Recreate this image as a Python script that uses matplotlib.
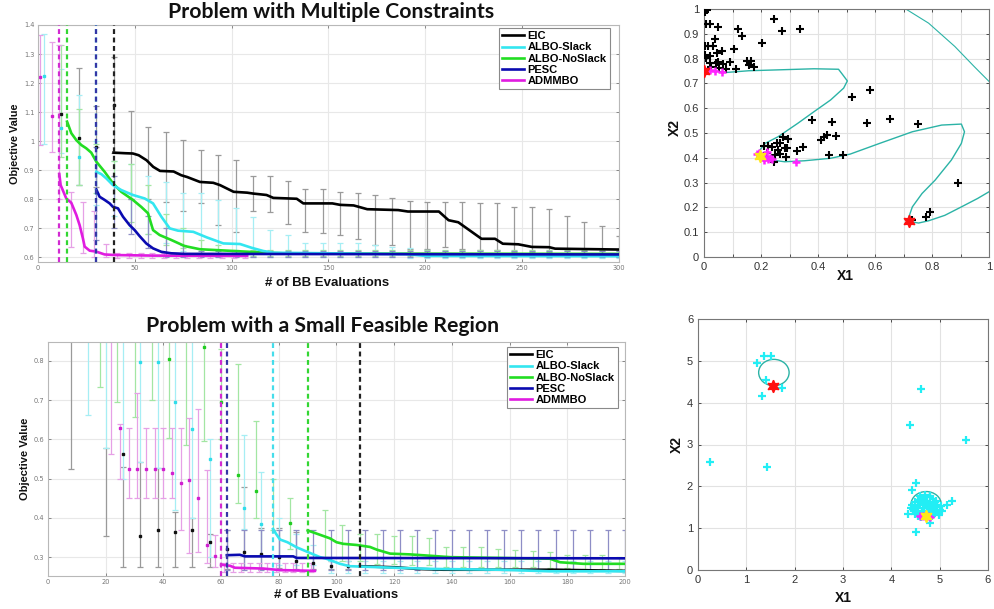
import matplotlib.pyplot as plt
import numpy as np
from matplotlib.patches import Circle

W, H = 995, 609

# ---------------- top-left: Problem with Multiple Constraints ----------------
methods = ['EIC', 'ALBO-Slack', 'ALBO-NoSlack', 'PESC', 'ADMMBO']

t_eic_x = [39, 45, 49, 52, 56, 59.5, 63, 70, 74, 77, 83.6, 90.5, 94, 101, 108, 111, 118, 121.5, 133.6, 137,
           152, 156, 163, 170, 186, 191, 207, 212, 217, 229, 236, 240, 248, 255, 264, 267, 300]
t_eic_y = [0.96, 0.958, 0.957, 0.951, 0.934, 0.911, 0.897, 0.895, 0.882, 0.876, 0.859, 0.856, 0.848, 0.825,
           0.822, 0.819, 0.814, 0.804, 0.801, 0.785, 0.785, 0.78, 0.778, 0.765, 0.762, 0.757, 0.757, 0.727,
           0.72, 0.663, 0.663, 0.646, 0.644, 0.635, 0.634, 0.629, 0.626]
t_slack_x = [30.1, 32.7, 35.3, 38.7, 43, 49, 55.1, 59.4, 63.7, 68, 72.3, 80.2, 87.1, 95.7, 104.3, 110.3,
             116.3, 121.5, 150, 190, 200, 300]
t_slack_y = [0.894, 0.886, 0.871, 0.848, 0.831, 0.814, 0.802, 0.785, 0.739, 0.699, 0.691, 0.687, 0.668,
             0.647, 0.645, 0.632, 0.621, 0.615, 0.613, 0.61, 0.604, 0.603]
t_noslack_x = [15, 17.2, 19.8, 22.4, 24.9, 27.5, 30.1, 34.4, 38.7, 43, 49, 53.3, 56.8, 59.4, 62.8, 68.8,
               75.7, 83.6, 92.2, 109.5, 118, 130, 300]
t_noslack_y = [1.067, 1.027, 1.003, 0.986, 0.975, 0.96, 0.929, 0.894, 0.854, 0.825, 0.797, 0.773, 0.751,
               0.693, 0.676, 0.659, 0.638, 0.627, 0.624, 0.618, 0.615, 0.612, 0.611]
t_pesc_x = [30.1, 31.8, 34.4, 37, 38.7, 41.3, 43.9, 47.3, 49.9, 52.5, 55.9, 59.4, 63.7, 68.8, 75.7, 300]
t_pesc_y = [0.833, 0.808, 0.797, 0.785, 0.773, 0.768, 0.739, 0.71, 0.693, 0.672, 0.647, 0.63, 0.618,
            0.613, 0.611, 0.609]
t_admm_x = [11, 11.7, 14.6, 17.2, 19.8, 21.5, 23.2, 24.1, 26.7, 30, 34.4, 39.6, 60, 108]
t_admm_y = [0.886, 0.848, 0.802, 0.787, 0.745, 0.71, 0.664, 0.636, 0.622, 0.619, 0.609, 0.607, 0.605, 0.604]

# error bars (x, low, high)
t_eic_bx = [21, 30, 39] + list(range(48, 301, 9))
t_eic_lo = [0.848, 0.84, 0.96, 0.80, 0.80, 0.79, 0.76, 0.785, 0.71, 0.687, 0.76, 0.756, 0.714, 0.687, 0.682,
            0.676, 0.664, 0.64, 0.64, 0.629, 0.629, 0.635, 0.629, 0.623, 0.623, 0.618, 0.618, 0.618, 0.612,
            0.612, 0.612, 0.612]
t_eic_hi = [1.253, 1.12, 1.29, 1.105, 1.05, 1.03, 1.005, 0.969, 0.952, 0.934, 0.879, 0.879, 0.863, 0.833,
            0.833, 0.825, 0.821, 0.815, 0.804, 0.792, 0.79, 0.79, 0.79, 0.786, 0.786, 0.773, 0.773, 0.764,
            0.741, 0.721, 0.706, 0.672]
t_eic_dx = [12, 21, 30, 39]
t_eic_dy = [1.092, 1.01, 0.98, 1.125]

t_slack_bx = [3, 12, 21] + list(range(30, 301, 9))
t_slack_lo = [0.99, 0.96, 0.85, 0.78, 0.74, 0.70, 0.68, 0.65, 0.62, 0.61, 0.60, 0.60, 0.60, 0.60, 0.60, 0.60,
              0.60, 0.60, 0.60, 0.60, 0.60, 0.598, 0.598, 0.598, 0.598, 0.598, 0.598, 0.598, 0.598, 0.598,
              0.598, 0.598, 0.598, 0.598]
t_slack_hi = [1.37, 1.25, 1.16, 1.0, 0.93, 0.92, 0.88, 0.86, 0.82, 0.82, 0.797, 0.768, 0.739, 0.693, 0.676,
              0.65, 0.65, 0.65, 0.648, 0.64, 0.635, 0.63, 0.625, 0.62, 0.62, 0.62, 0.62, 0.62, 0.62, 0.62,
              0.62, 0.62, 0.62, 0.62]
t_slack_dx = [3, 12, 21]
t_slack_dy = [1.224, 1.044, 0.946]

t_noslack_bx = [12] + list(range(21, 301, 9))
t_noslack_lo = [0.945, 0.848, 0.82, 0.80, 0.72, 0.68, 0.64, 0.63, 0.615, 0.61] + [0.605] * 23
t_noslack_hi = [1.331, 1.112, 0.99, 0.93, 0.92, 0.85, 0.75, 0.70, 0.66, 0.64] + [0.625] * 23

t_pesc_bx = list(range(30, 301, 9))
t_pesc_lo = [0.66, 0.70, 0.68, 0.63, 0.60, 0.60] + [0.60] * 25
t_pesc_hi = [0.98, 0.88, 0.80, 0.74, 0.70, 0.64] + [0.62] * 25

t_admm_bx = [1, 7] + list(range(11, 108, 6))
t_admm_lo = [0.986, 0.961, 0.80, 0.636, 0.613, 0.60, 0.60] + [0.598] * 12
t_admm_hi = [1.366, 1.34, 1.33, 0.825, 0.791, 0.76, 0.645] + [0.615] * 12
t_admm_dx = [1, 7]
t_admm_dy = [1.222, 1.087]

t_start = [39, 30, 15, 30, 11]   # dashed start lines (EIC, Slack, NoSlack, PESC, ADMMBO)

# ---------------- bottom-left: Problem with a Small Feasible Region ----------------
b_eic_x = [108, 121, 128, 137, 176, 200]
b_eic_y = [0.277, 0.274, 0.27, 0.268, 0.268, 0.265]
b_slack_x = [78, 79, 80.4, 83, 86.2, 92, 94.3, 96.5, 101.2, 104.6, 116, 133.4, 156.4, 173.7, 200]
b_slack_y = [0.372, 0.36, 0.345, 0.338, 0.325, 0.307, 0.30, 0.296, 0.283, 0.277, 0.274, 0.27, 0.268,
             0.264, 0.264]
b_noslack_x = [90, 93.1, 97.7, 100, 102.3, 107, 111.6, 114, 118.6, 125.6, 133.6, 139.4, 156.7, 174, 177.5,
               185.6, 200]
b_noslack_y = [0.368, 0.36, 0.348, 0.338, 0.334, 0.331, 0.326, 0.319, 0.309, 0.307, 0.303, 0.3, 0.298,
               0.296, 0.287, 0.283, 0.283]
b_pesc_x = [62, 66.5, 68.3, 85, 86.2, 200]
b_pesc_y = [0.305, 0.306, 0.302, 0.302, 0.298, 0.297]
b_admm_x = [60, 63.1, 64.8, 74.6, 80.4, 87, 92.5]
b_admm_y = [0.281, 0.278, 0.273, 0.271, 0.267, 0.266, 0.265]

b_eic_bx = [8, 20, 26, 32, 38, 44, 50, 56, 62, 68, 74, 80, 86, 92, 98, 104]
b_eic_lo = [0.524, 0.354, 0.275, 0.275, 0.275, 0.275, 0.275, 0.275, 0.27, 0.272, 0.27, 0.272, 0.27, 0.27,
            0.27, 0.27]
b_eic_hi = [0.9, 0.577, 0.53, 0.543, 0.526, 0.415, 0.40, 0.36, 0.37, 0.479, 0.373, 0.373, 0.365, 0.30,
            0.29, 0.29]
b_eic_dx = [26, 32, 38, 44, 50, 56, 62, 68, 74, 80, 86, 92, 98, 104]
b_eic_dy = [0.562, 0.354, 0.369, 0.365, 0.369, 0.339, 0.322, 0.313, 0.307, 0.30, 0.29, 0.284, 0.277, 0.277]

b_slack_bx = [14, 20, 26, 32, 38, 44, 50, 56, 68, 74, 80, 86, 92] + list(range(98, 201, 6))
b_slack_lo = [0.662, 0.577, 0.50, 0.543, 0.526, 0.42, 0.40, 0.30, 0.371, 0.305, 0.28, 0.28, 0.28] + [0.26] * 18
b_slack_hi = [0.9, 0.9, 0.9, 0.9, 0.9, 0.9, 0.9, 0.60, 0.611, 0.518, 0.40, 0.36, 0.33] + [0.29] * 18
b_slack_dx = [32, 38, 44, 50, 56, 68, 74]
b_slack_dy = [0.797, 0.796, 0.696, 0.626, 0.549, 0.424, 0.384]

b_noslack_bx = [18, 24, 30, 36, 42, 48, 54, 60, 66, 72, 78, 84] + list(range(96, 199, 6))
b_noslack_lo = [0.734, 0.696, 0.658, 0.70, 0.603, 0.586, 0.595, 0.60, 0.437, 0.40, 0.37, 0.322,
                0.30, 0.29, 0.29, 0.283, 0.283, 0.28, 0.28, 0.275, 0.275, 0.275, 0.275, 0.275, 0.275, 0.272,
                0.272, 0.27, 0.27, 0.27]
b_noslack_hi = [0.9, 0.9, 0.9, 0.9, 0.9, 0.9, 0.9, 0.83, 0.792, 0.647, 0.50, 0.451,
                0.42, 0.382, 0.36, 0.36, 0.355, 0.353, 0.349, 0.327, 0.327, 0.325, 0.322, 0.318, 0.315, 0.313,
                0.306, 0.306, 0.306, 0.30]
b_noslack_dx = [42, 54, 60, 66, 72, 84]
b_noslack_dy = [0.805, 0.834, 0.696, 0.509, 0.468, 0.386]

b_pesc_bx = list(range(62, 201, 6))
b_pesc_lo = [0.267] * 24
b_pesc_hi = [0.369] * 24

b_admm_bx = [22, 25, 28, 31, 34, 37, 40, 43, 46, 49, 52, 55, 58] + list(range(61, 92, 3))
b_admm_lo = [0.562, 0.50, 0.45, 0.45, 0.45, 0.45, 0.45, 0.45, 0.369, 0.31, 0.313, 0.286, 0.275] + [0.262] * 11
b_admm_hi = [0.9, 0.64, 0.63, 0.718, 0.63, 0.63, 0.63, 0.63, 0.628, 0.654, 0.677, 0.522, 0.356] + [0.285] * 11
b_admm_dx = [25, 28, 31, 34, 37, 40, 43, 46, 49, 52, 55, 58]
b_admm_dy = [0.63, 0.524, 0.524, 0.524, 0.524, 0.524, 0.515, 0.488, 0.496, 0.45, 0.33, 0.303]

b_start = [108, 78, 90, 62, 60]

# ---------------- top-right scatter ----------------
tr_black_x = [0.002, 0.01, 0.008, 0.02, 0.048, 0.12, 0.132, 0.247, 0.272, 0.337, 0.205, 0.037, 0.002, 0.014,
              0.031, 0.045, 0.063, 0.105, 0.002, 0.008, 0.02, 0.02, 0.042, 0.048, 0.068, 0.091, 0.111, 0.151,
              0.166, 0.159, 0.177, 0.054, 0.077, 0.025,
              0.209, 0.226, 0.237, 0.255, 0.266, 0.278, 0.295, 0.26, 0.283, 0.292, 0.249, 0.266, 0.289, 0.22,
              0.327, 0.346, 0.247, 0.378, 0.448, 0.412, 0.421, 0.432, 0.462, 0.44, 0.486, 0.518, 0.584, 0.573,
              0.654, 0.751, 0.891, 0.73, 0.78, 0.794]
tr_black_y = [0.987, 0.997, 0.94, 0.94, 0.927, 0.919, 0.892, 0.961, 0.912, 0.919, 0.862, 0.879, 0.849, 0.849,
              0.849, 0.822, 0.829, 0.838, 0.815, 0.802, 0.809, 0.784, 0.782, 0.788, 0.778, 0.788, 0.759, 0.791,
              0.791, 0.775, 0.768, 0.761, 0.757, 0.768,
              0.449, 0.449, 0.445, 0.458, 0.458, 0.482, 0.476, 0.431, 0.438, 0.438, 0.411, 0.415, 0.402, 0.418,
              0.429, 0.445, 0.384, 0.553, 0.543, 0.472, 0.485, 0.492, 0.489, 0.411, 0.411, 0.647, 0.674, 0.539,
              0.555, 0.536, 0.299, 0.148, 0.162, 0.182]
tr_mag_x = [0.02, 0.037, 0.063, 0.186, 0.194, 0.214, 0.226, 0.237, 0.209, 0.22, 0.323, 0.23]
tr_mag_y = [0.755, 0.751, 0.745, 0.415, 0.42, 0.404, 0.394, 0.396, 0.39, 0.425, 0.384, 0.40]
tr_red_x = [0.0, 0.719]
tr_red_y = [0.751, 0.144]
tr_yel_x = [0.197]
tr_yel_y = [0.408]
tr_c1_x = [0.008, 0.077, 0.157, 0.272, 0.386, 0.472, 0.484, 0.503, 0.49, 0.444, 0.386, 0.329, 0.26, 0.214,
           0.192, 0.197, 0.237, 0.283, 0.352, 0.444, 0.513, 0.616, 0.731, 0.834, 0.903, 0.914, 0.903, 0.868,
           0.811, 0.765, 0.731, 0.719, 0.725, 0.753, 0.788, 0.845, 0.903, 0.96, 1.0]
tr_c1_y = [0.755, 0.744, 0.751, 0.755, 0.759, 0.757, 0.739, 0.71, 0.681, 0.633, 0.586, 0.539, 0.485, 0.458,
           0.425, 0.404, 0.391, 0.384, 0.388, 0.398, 0.415, 0.458, 0.505, 0.532, 0.536, 0.505, 0.458, 0.391,
           0.31, 0.256, 0.202, 0.162, 0.142, 0.137, 0.146, 0.168, 0.202, 0.236, 0.263]
tr_c2_x = [0.708, 0.788, 0.88, 0.948, 1.0]
tr_c2_y = [1.0, 0.943, 0.849, 0.768, 0.708]

# ---------------- bottom-right scatter ----------------
br_x = [0.24, 1.43, 1.32, 1.22, 1.37, 1.52, 1.41, 1.73, 4.62, 4.39, 5.55, 4.51, 4.42, 5.25, 5.15, 4.52, 4.8, 4.35,
        4.45, 4.5, 4.55, 4.6, 4.65, 4.7, 4.75, 4.8, 4.85, 4.9, 4.95, 5.0, 5.05,
        4.48, 4.53, 4.58, 4.63, 4.68, 4.73, 4.78, 4.83, 4.88, 4.93, 4.98,
        4.5, 4.56, 4.62, 4.68, 4.74, 4.8, 4.86, 4.92,
        4.55, 4.62, 4.7, 4.78, 4.85, 4.6, 4.7, 4.8, 4.42, 4.4, 4.95, 5.02, 4.66, 4.74]
br_y = [2.58, 2.47, 4.15, 4.96, 5.12, 5.12, 4.55, 4.35, 4.33, 3.46, 3.11, 2.07, 1.91, 1.66, 1.55, 0.92, 1.13, 1.35,
        1.45, 1.5, 1.42, 1.55, 1.48, 1.6, 1.52, 1.58, 1.46, 1.62, 1.5, 1.44, 1.4,
        1.35, 1.38, 1.32, 1.36, 1.4, 1.34, 1.38, 1.35, 1.33, 1.38, 1.32,
        1.62, 1.68, 1.7, 1.72, 1.66, 1.74, 1.7, 1.65,
        1.28, 1.26, 1.3, 1.28, 1.3, 1.78, 1.8, 1.76, 1.55, 1.48, 1.56, 1.52, 1.64, 1.42]
br_mag_x = [4.6, 4.65, 4.75, 4.8]
br_mag_y = [1.28, 1.3, 1.3, 1.27]
br_red = (1.55, 4.41)
br_yel = (4.71, 1.28)
br_circles = [(1.57, 4.72), (4.72, 1.56)]
br_radius = 0.315

# ---------------- styling ----------------
line_c = ['#000000', '#33E6F0', '#22DD22', '#0A0AB0', '#E01BE0']
err_c = ['#9a9a9a', '#a6eef4', '#a3e6a3', '#8e8ec6', '#e6a0e6']
dash_c = ['#222222', '#45DDEB', '#33D633', '#3535A5', '#D22AD2']
dot_c = ['#111111', '#30DDEA', '#22CC22', '#1010A0', '#D020D0']

fig = plt.figure(figsize=(W / 100, H / 100), dpi=100)


def px_axes(l, t, r, b):
    return fig.add_axes([l / W, 1 - b / H, (r - l) / W, (b - t) / H])


def bars(ax, x, lo, hi, color):
    x = np.asarray(x, float)
    lo = np.asarray(lo, float)
    hi = np.asarray(hi, float)
    mid = (lo + hi) / 2
    ax.errorbar(x, mid, yerr=[mid - lo, hi - mid], fmt='none', ecolor=color,
                elinewidth=0.9, capsize=2, capthick=0.9, zorder=2)


def style_left(ax, xticks, yticks, ylabels):
    ax.set_xticks(xticks)
    ax.set_yticks(yticks)
    ax.set_yticklabels(ylabels)
    ax.grid(True, color='#e8e8e8', lw=0.8)
    ax.set_axisbelow(True)
    ax.tick_params(direction='in', length=2, width=0.6, labelsize=4.8, colors='#777777',
                   top=True, right=True, pad=2.5)
    for s in ax.spines.values():
        s.set_color('#b8b8b8')
        s.set_linewidth(0.8)


def style_right(ax, ticks, labels):
    ax.set_xticks(ticks)
    ax.set_yticks(ticks)
    ax.set_xticklabels(labels)
    ax.set_yticklabels(labels)
    ax.grid(True, color='#e2e2e2', lw=0.8)
    ax.set_axisbelow(True)
    ax.tick_params(direction='in', length=2.5, width=0.6, labelsize=8, colors='#333333',
                   top=True, right=True, pad=3.5)
    for lab in ax.get_xticklabels() + ax.get_yticklabels():
        lab.set_fontfamily('Liberation Sans')
    for s in ax.spines.values():
        s.set_color('#777777')
        s.set_linewidth(0.8)


def legend(ax, anchor):
    leg = ax.legend(loc='upper right', bbox_to_anchor=anchor, borderaxespad=0,
                    prop={'family': 'Liberation Sans', 'weight': 'bold', 'size': 8},
                    handlelength=2.0, handletextpad=0.3, labelspacing=0.1, borderpad=0.3,
                    fancybox=False, framealpha=1, edgecolor='#8a8a8a')
    leg.get_frame().set_linewidth(0.8)


# ---- top-left ----
ax1 = px_axes(38, 25, 619, 262)
bars(ax1, t_eic_bx, t_eic_lo, t_eic_hi, err_c[0])
bars(ax1, t_slack_bx, t_slack_lo, t_slack_hi, err_c[1])
bars(ax1, t_noslack_bx, t_noslack_lo, t_noslack_hi, err_c[2])
bars(ax1, t_pesc_bx, t_pesc_lo, t_pesc_hi, err_c[3])
bars(ax1, t_admm_bx, t_admm_lo, t_admm_hi, err_c[4])
ax1.plot(t_eic_dx, t_eic_dy, 's', ms=2, color=dot_c[0], zorder=2.5)
ax1.plot(t_slack_dx, t_slack_dy, 's', ms=2, color=dot_c[1], zorder=2.5)
ax1.plot(t_admm_dx, t_admm_dy, 's', ms=2, color=dot_c[4], zorder=2.5)
for xs, c in zip(t_start, dash_c):
    ax1.axvline(xs, color=c, ls=(0, (2.2, 1.6)), lw=1.6, zorder=4)
series = [(t_eic_x, t_eic_y), (t_slack_x, t_slack_y), (t_noslack_x, t_noslack_y),
          (t_pesc_x, t_pesc_y), (t_admm_x, t_admm_y)]
zs = [3.0, 3.2, 3.1, 3.4, 3.3]
for (xs, ys), c, lab, z in zip(series, line_c, methods, zs):
    ax1.plot(xs, ys, color=c, lw=1.9, label=lab, zorder=z)
ax1.set_xlim(0, 300)
ax1.set_ylim(0.583, 1.4)
style_left(ax1, [0, 50, 100, 150, 200, 250, 300],
           [0.6, 0.7, 0.8, 0.9, 1.0, 1.1, 1.2, 1.3, 1.4],
           ['0.6', '0.7', '0.8', '0.9', '1', '1.1', '1.2', '1.3', '1.4'])
legend(ax1, ((610 - 38) / 581, 1 - 3 / 237))

# ---- bottom-left ----
ax3 = px_axes(48, 342, 625, 576)
bars(ax3, b_eic_bx, b_eic_lo, b_eic_hi, err_c[0])
bars(ax3, b_slack_bx, b_slack_lo, b_slack_hi, err_c[1])
bars(ax3, b_noslack_bx, b_noslack_lo, b_noslack_hi, err_c[2])
bars(ax3, b_pesc_bx, b_pesc_lo, b_pesc_hi, err_c[3])
bars(ax3, b_admm_bx, b_admm_lo, b_admm_hi, err_c[4])
ax3.plot(b_eic_dx, b_eic_dy, 's', ms=2, color=dot_c[0], zorder=2.5)
ax3.plot(b_slack_dx, b_slack_dy, 's', ms=2, color=dot_c[1], zorder=2.5)
ax3.plot(b_noslack_dx, b_noslack_dy, 's', ms=2, color=dot_c[2], zorder=2.5)
ax3.plot(b_admm_dx, b_admm_dy, 's', ms=2, color=dot_c[4], zorder=2.5)
for xs, c in zip(b_start, dash_c):
    ax3.axvline(xs, color=c, ls=(0, (2.2, 1.6)), lw=1.6, zorder=4)
series = [(b_eic_x, b_eic_y), (b_slack_x, b_slack_y), (b_noslack_x, b_noslack_y),
          (b_pesc_x, b_pesc_y), (b_admm_x, b_admm_y)]
for (xs, ys), c, lab, z in zip(series, line_c, methods, zs):
    ax3.plot(xs, ys, color=c, lw=1.9, label=lab, zorder=z)
ax3.set_xlim(0, 200)
ax3.set_ylim(0.252, 0.848)
style_left(ax3, [0, 20, 40, 60, 80, 100, 120, 140, 160, 180, 200],
           [0.3, 0.4, 0.5, 0.6, 0.7, 0.8],
           ['0.3', '0.4', '0.5', '0.6', '0.7', '0.8'])
legend(ax3, ((618 - 48) / 577, 1 - 5 / 234))

# ---- top-right ----
ax2 = px_axes(704, 9, 989, 257)
ax2.plot(tr_c1_x, tr_c1_y, color='#2BB3A6', lw=1.0, zorder=2)
ax2.plot(tr_c2_x, tr_c2_y, color='#2BB3A6', lw=0.8, zorder=2)
ax2.plot(tr_black_x, tr_black_y, '+', color='black', ms=6, mew=1.5, zorder=3)
ax2.plot(tr_mag_x, tr_mag_y, '+', color='#FF22FF', ms=6, mew=1.8, zorder=4)
ax2.plot(tr_red_x, tr_red_y, marker=(6, 1, 0), ls='none', color='#FF1010', ms=9, zorder=5)
ax2.plot(tr_yel_x, tr_yel_y, marker=(6, 1, 0), ls='none', color='#FFE81A', ms=9, zorder=5)
ax2.set_xlim(0, 1)
ax2.set_ylim(0, 1)
style_right(ax2, [0, 0.1, 0.2, 0.3, 0.4, 0.5, 0.6, 0.7, 0.8, 0.9, 1.0],
            ['0', '0.1', '0.2', '0.3', '0.4', '0.5', '0.6', '0.7', '0.8', '0.9', '1'])
ax2.set_xticklabels(['0', '', '0.2', '', '0.4', '', '0.6', '', '0.8', '', '1'])
for lab in ax2.get_xticklabels():
    lab.set_fontfamily('Liberation Sans')

# ---- bottom-right ----
ax4 = px_axes(698, 319, 988, 570)
for c in br_circles:
    ax4.add_patch(Circle(c, br_radius, fill=False, ec='#2BB3A6', lw=1.0, zorder=2))
ax4.plot(br_x, br_y, '+', color='#22EEF5', ms=6, mew=1.6, zorder=3)
ax4.plot(br_mag_x, br_mag_y, '+', color='#FF22FF', ms=6, mew=1.8, zorder=4)
ax4.plot([br_red[0]], [br_red[1]], marker=(6, 1, 0), ls='none', color='#FF1010', ms=9, zorder=5)
ax4.plot([br_yel[0]], [br_yel[1]], marker=(6, 1, 0), ls='none', color='#FFE81A', ms=9, zorder=5)
ax4.set_xlim(0, 6)
ax4.set_ylim(0, 6)
style_right(ax4, [0, 1, 2, 3, 4, 5, 6], ['0', '1', '2', '3', '4', '5', '6'])


# ---- texts ----
def ftext(x, y, s, size, family='Liberation Sans', rot=0):
    fig.text(x / W, 1 - y / H, s, ha='center', va='center', fontsize=size, fontweight='bold',
             family=family, rotation=rot, color='#111111')


ftext(331, 12, 'Problem with Multiple Constraints', 15.3, family='Lato')
ftext(323, 326, 'Problem with a Small Feasible Region', 15.3, family='Lato')
ftext(327, 283, '# of BB Evaluations', 9.5)
ftext(336, 595, '# of BB Evaluations', 9.5)
ftext(15, 144, 'Objective Value', 7.8, rot=90)
ftext(25, 459, 'Objective Value', 8.0, rot=90)
ftext(845, 276, 'X1', 10)
ftext(675, 128, 'X2', 10, rot=90)
ftext(843, 598, 'X1', 10)
ftext(677, 445, 'X2', 10, rot=90)

fig.savefig('out.png', dpi=100)
